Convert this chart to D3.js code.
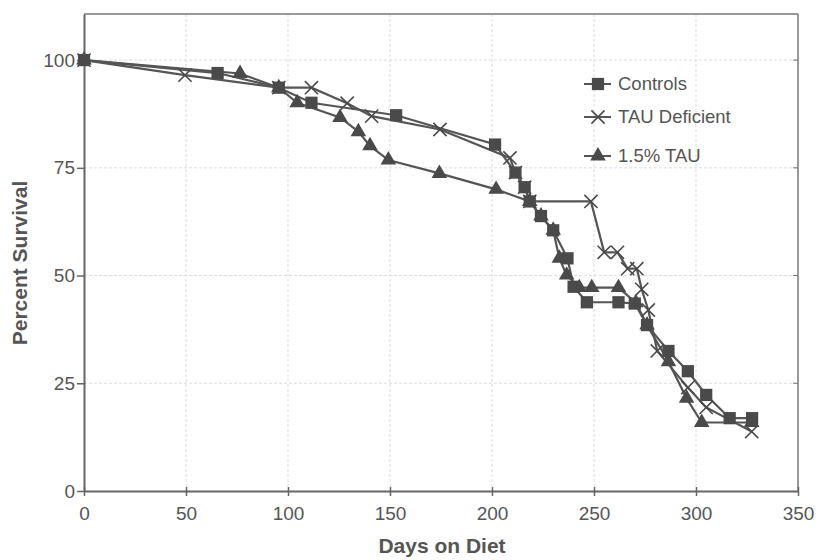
<!DOCTYPE html>
<html lang="en">

<head>
    <meta charset="UTF-8">
    <title>survival</title>
    <style>
        body { margin: 0; background: #fff; }
        text { font-family: "Liberation Sans", Arial, sans-serif; fill: #555; }
    </style>
</head>

<body>
    <svg id="chart"></svg>

    <script src="https://d3js.org/d3.v7.min.js"></script>
    <script>
        const xTicks = [0, 50, 100, 150, 200, 250, 300, 350]
        const yTicks = [0, 25, 50, 75, 100]

        // Controls (squares)
        const ctrlDays = [0, 65.5, 95.5, 111.5, 153, 201.5, 211.5, 216, 218.5, 224, 230, 237, 240, 246.5, 262, 270, 276, 286.5, 296, 305, 316.5, 327.5]
        const ctrlPct = [100, 97, 93.6, 90.1, 87.2, 80.4, 73.9, 70.5, 67.2, 63.8, 60.5, 54, 47.4, 43.8, 43.8, 43.5, 38.5, 32.5, 27.8, 22.3, 16.9, 16.9]

        // TAU Deficient (x)
        const defDays = [0, 49.5, 95.5, 111.5, 129, 141, 174.5, 208.8, 211.5, 216, 218.5, 248.5, 255, 261.5, 266.5, 271, 273.4, 276.6, 281, 296, 305, 327.3]
        const defPct = [100, 96.5, 93.6, 93.6, 90, 87, 83.9, 77.3, 73.9, 70.5, 67.2, 67.2, 55.4, 55.4, 51.6, 51.6, 46.8, 42, 32.5, 24, 19.4, 13.8]

        // 1.5% TAU (triangles)
        const tauDays = [0, 76.5, 95.5, 104.5, 125.5, 134.5, 140.2, 149.2, 174.2, 202, 218.5, 224, 230, 233, 236.6, 242.8, 248.9, 262, 270.5, 276, 286.5, 295.4, 302.8, 327.3]
        const tauPct = [100, 96.9, 93.6, 90.1, 86.7, 83.4, 80.1, 76.8, 73.7, 70, 67.2, 63.8, 60.5, 54, 50.1, 47.2, 47.2, 47.2, 43.7, 38.5, 30, 21.5, 15.9, 15.9]

        const seriesNames = ['Controls', 'TAU Deficient', '1.5% TAU']

        function render() {
            const svg = d3.select('#chart').attr('width', 818).attr('height', 560);
            const lineColor = '#555', markColor = '#4a4a4a';

            const x = d3.scaleLinear().domain([0, 350]).range([84, 798]);
            const y = d3.scaleLinear().domain([0, 110.7]).range([491, 14]);

            // grid
            svg.append('g').selectAll('line').data(xTicks.slice(1, -1)).join('line')
                .attr('x1', d => x(d)).attr('x2', d => x(d)).attr('y1', y(110.7)).attr('y2', y(0))
                .attr('stroke', '#ddd').attr('stroke-dasharray', '3,2');
            svg.append('g').selectAll('line').data(yTicks.slice(1)).join('line')
                .attr('y1', d => y(d)).attr('y2', d => y(d)).attr('x1', x(0)).attr('x2', x(350))
                .attr('stroke', '#ddd').attr('stroke-dasharray', '3,2');

            // frame top + right
            svg.append('line').attr('x1', x(0)).attr('x2', x(350)).attr('y1', y(110.7)).attr('y2', y(110.7))
                .attr('stroke', '#777').attr('stroke-width', 1.5);
            svg.append('line').attr('x1', x(350)).attr('x2', x(350)).attr('y1', y(110.7)).attr('y2', y(0))
                .attr('stroke', '#777').attr('stroke-width', 1.5);
            svg.append('g').selectAll('line').data(yTicks.slice(1)).join('line')
                .attr('y1', d => y(d)).attr('y2', d => y(d)).attr('x1', x(350) - 5).attr('x2', x(350))
                .attr('stroke', '#777');

            // axes
            const xAxis = svg.append('g').attr('transform', `translate(0,${y(0)})`)
                .call(d3.axisBottom(x).tickValues(xTicks).tickSize(5).tickSizeOuter(0).tickPadding(11));
            const yAxis = svg.append('g').attr('transform', `translate(${x(0)},0)`)
                .call(d3.axisLeft(y).tickValues(yTicks).tickSize(7).tickSizeOuter(0).tickPadding(2));
            [xAxis, yAxis].forEach(g => {
                g.select('.domain').attr('stroke', '#666').attr('stroke-width', 2);
                g.selectAll('.tick line').attr('stroke', '#666').attr('stroke-width', 1.5);
                g.selectAll('.tick text').attr('font-size', 19).attr('font-family', '"Liberation Sans", Arial, sans-serif').attr('fill', '#555');
            });
            xAxis.selectAll('.tick line').attr('y1', -4);

            // titles
            svg.append('text').attr('x', 442).attr('y', 553).attr('text-anchor', 'middle')
                .attr('font-size', 21).attr('font-weight', 'bold').text('Days on Diet');
            svg.append('text').attr('transform', 'translate(27,263) rotate(-90)').attr('text-anchor', 'middle')
                .attr('font-size', 21).attr('font-weight', 'bold').text('Percent Survival');

            const line = d3.line().x(d => x(d[0])).y(d => y(d[1]));
            const ctrl = ctrlDays.map((d, i) => [d, ctrlPct[i]]);
            const def = defDays.map((d, i) => [d, defPct[i]]);
            const tau = tauDays.map((d, i) => [d, tauPct[i]]);

            [tau, def, ctrl].forEach(s => {
                svg.append('path').attr('d', line(s)).attr('fill', 'none')
                    .attr('stroke', lineColor).attr('stroke-width', 2.2);
            });

            const sq = d3.symbol().type(d3.symbolSquare).size(150);
            const tri = d3.symbol().type(d3.symbolTriangle).size(105);
            const cross = d3.symbol().type(d3.symbolX).size(115);

            function marks(data, sym, kind) {
                const g = svg.append('g').selectAll('path').data(data).join('path')
                    .attr('transform', d => `translate(${x(d[0])},${y(d[1])})`)
                    .attr('d', sym);
                if (kind === 'x') g.attr('fill', 'none').attr('stroke', markColor).attr('stroke-width', 1.6);
                else g.attr('fill', markColor);
            }
            marks(tau, tri, 'tri');
            marks(def, cross, 'x');
            marks(ctrl, sq, 'sq');

            // legend
            const legY = [84, 117, 156];
            const syms = [sq, cross, tri];
            seriesNames.forEach((name, i) => {
                const g = svg.append('g').attr('transform', `translate(0,${legY[i]})`);
                g.append('line').attr('x1', 584).attr('x2', 611).attr('stroke', lineColor).attr('stroke-width', 2);
                const p = g.append('path').attr('transform', 'translate(598,0)').attr('d', syms[i]);
                if (i === 1) p.attr('fill', 'none').attr('stroke', markColor).attr('stroke-width', 1.6);
                else p.attr('fill', markColor);
                g.append('text').attr('x', 618).attr('y', 6).attr('font-size', 18.5).text(name);
            });
        }

        render()
    </script>
</body>

</html>
